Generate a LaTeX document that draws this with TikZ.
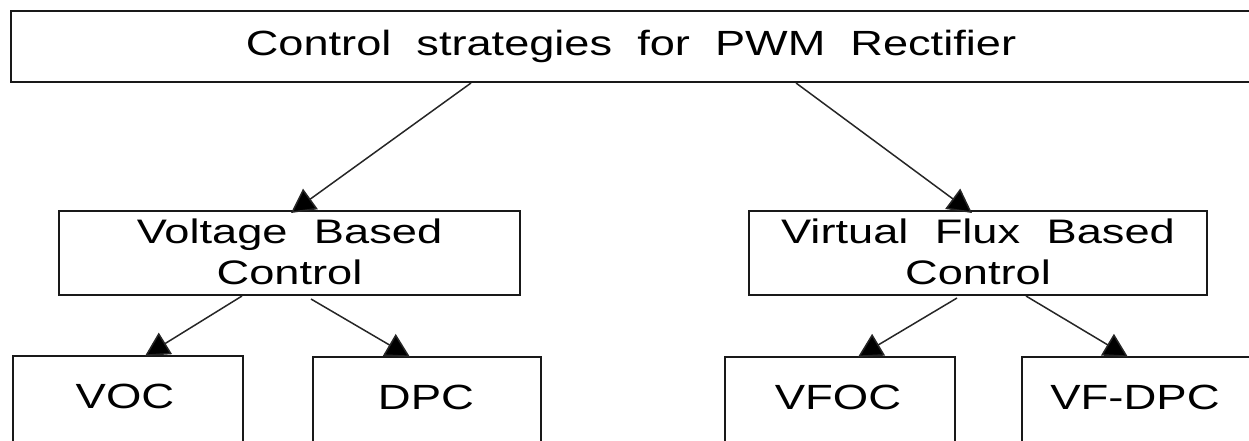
\documentclass[tikz,border=0pt]{standalone}
\usepackage{fontspec}
\usetikzlibrary{arrows.meta,calc}
\newfontfamily\bigfont[FakeStretch=1.29,WordSpace=2]{Liberation Sans}
\newfontfamily\midfont[FakeStretch=1.33,WordSpace=2.1]{Liberation Sans}
\newfontfamily\lowfont[FakeStretch=1.3]{Liberation Sans}
\begin{document}
\begin{tikzpicture}[x=1pt,y=-1pt,
  box/.style={draw=black!90,line width=2pt,inner sep=0pt,align=center},
  arr/.style={draw=black!85,line width=1.5pt,-{Triangle[length=24pt,width=25pt,fill=black]}},
  toptxt/.style={font=\bigfont\fontsize{35}{41}\selectfont},
  midtxt/.style={font=\midfont\fontsize{34}{41}\selectfont},
  lowtxt/.style={font=\lowfont\fontsize{35}{41}\selectfont}]
\useasboundingbox (0,0) rectangle (1249,440);
\clip (0,0) rectangle (1249,440);
% boxes
\node[box,toptxt,minimum width=1240pt,minimum height=71pt] (top) at (631,46.5) {Control strategies for PWM Rectifier};
\node[box,midtxt,minimum width=461pt,minimum height=84pt] (vb) at (289.5,253) {\raisebox{2pt}{Voltage Based}\\\raisebox{2pt}{Control}};
\node[box,midtxt,minimum width=458pt,minimum height=84pt] (vf) at (978,253) {\raisebox{2pt}{Virtual Flux Based}\\\raisebox{2pt}{Control}};
\node[box,minimum width=230pt,minimum height=110pt] (voc) at (128,411) {};
\node[box,minimum width=228pt,minimum height=110pt] (dpc) at (427,412) {};
\node[box,minimum width=230pt,minimum height=110pt] (vfoc) at (840,412) {};
\node[box,minimum width=238pt,minimum height=110pt] (vfdpc) at (1141,412) {};
% labels of the bottom boxes
\node[lowtxt,anchor=base] (voct) at ($(voc.north)+(-3,53)$) {VOC};
\node[lowtxt,anchor=base] (dpct) at ($(dpc.north)+(-1,53)$) {DPC};
\node[lowtxt,anchor=base] (vfoct) at ($(vfoc.north)+(-2,53)$) {VFOC};
\node[lowtxt,anchor=base] (vfdpct) at ($(vfdpc.north)+(-6,53)$) {VF-DPC};
% connectors
\draw[arr] ($(top.south west)+(461,0)$) -- ($(vb.north west)+(233,3)$);
\draw[arr] ($(top.south west)+(786,0)$) -- ($(vf.north west)+(224,3)$);
\draw[arr] ($(vb.south west)+(184,0)$) -- ($(voc.north west)+(133,1)$);
\draw[arr] ($(vb.south west)+(253,3)$) -- ($(dpc.north west)+(98,1)$);
\draw[arr] ($(vf.south west)+(209,2)$) -- ($(vfoc.north west)+(134,1)$);
\draw[arr] ($(vf.south west)+(278,0)$) -- ($(vfdpc.north west)+(107,1)$);
\end{tikzpicture}
\end{document}
